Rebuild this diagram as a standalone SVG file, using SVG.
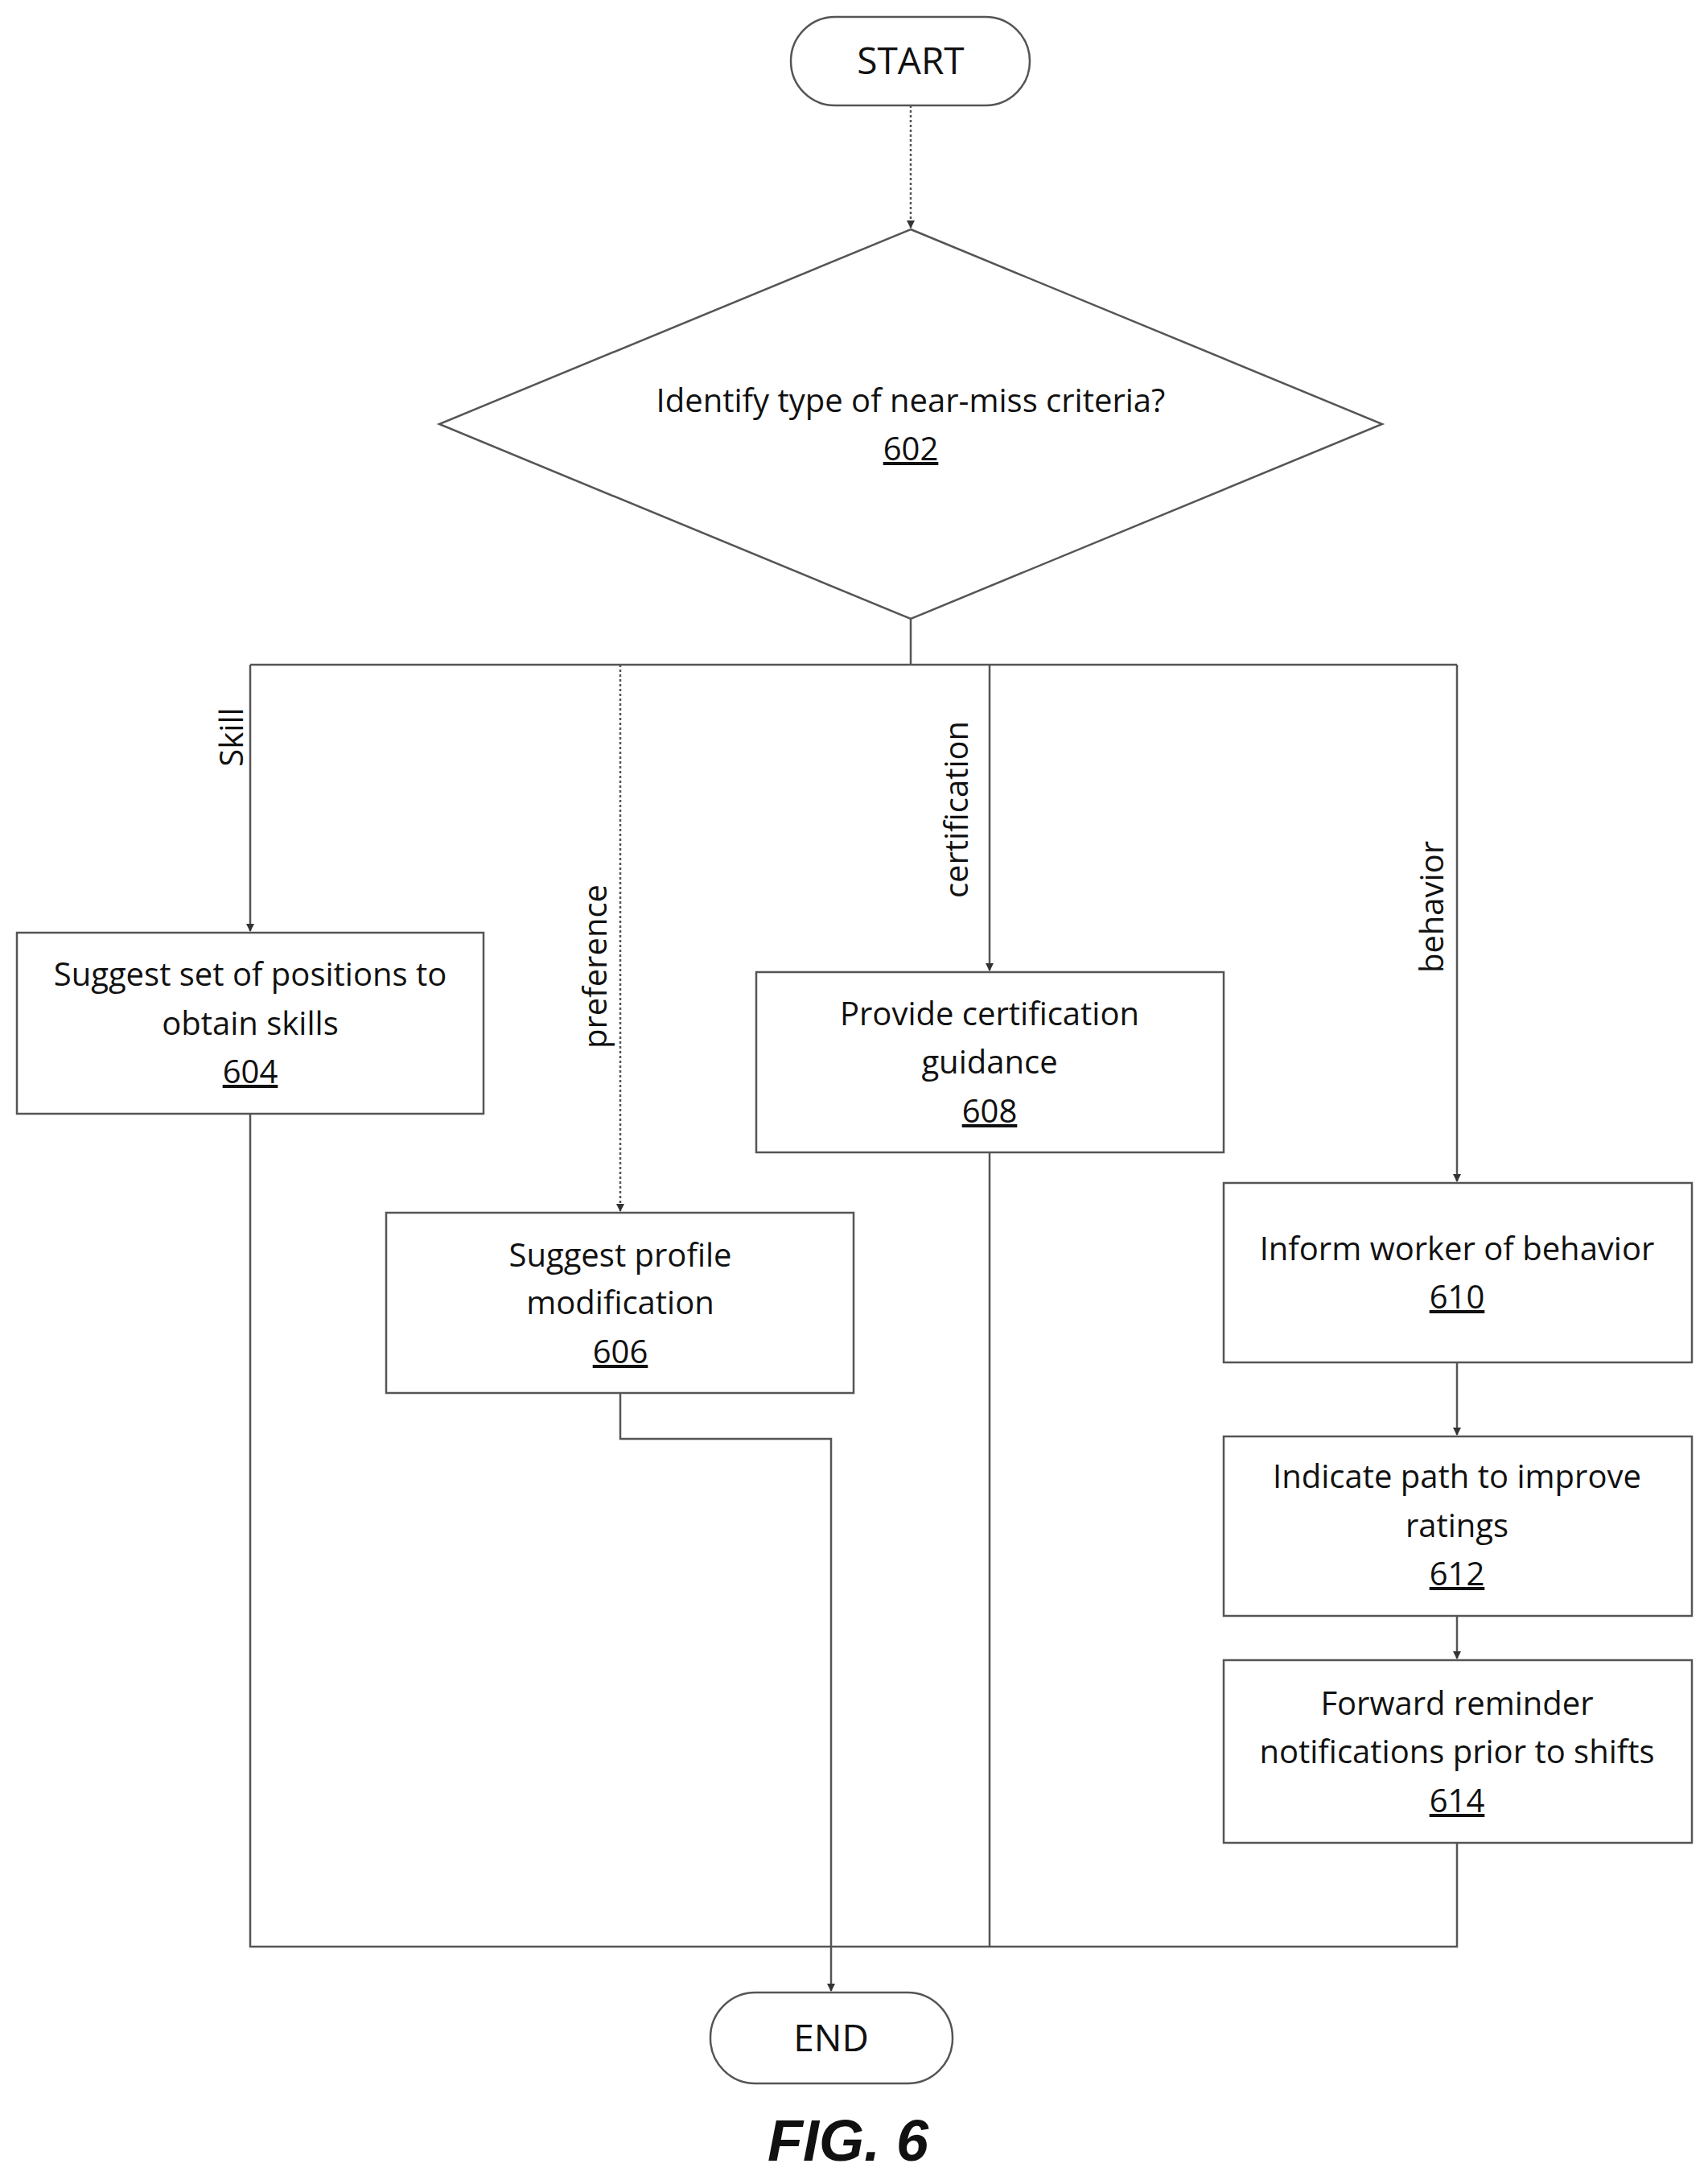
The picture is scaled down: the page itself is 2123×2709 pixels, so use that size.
<svg xmlns="http://www.w3.org/2000/svg" width="2123" height="2709" viewBox="0 0 2123 2709">
<style>
.b{fill:#fff;stroke:#555;stroke-width:2.5}
.l{fill:none;stroke:#555;stroke-width:2.5}
.d{fill:none;stroke:#555;stroke-width:2.5;stroke-dasharray:3 3}
text{font-family:"Open Sans","Liberation Sans",sans-serif;font-size:40px;fill:#111;text-anchor:middle}
.u{text-decoration:underline}
</style>
<defs><marker id="a" markerWidth="10" markerHeight="10" refX="9" refY="5" orient="auto" markerUnits="userSpaceOnUse" viewBox="0 0 10 10"><path d="M0,0 L10,5 L0,10 z" fill="#333"/></marker></defs>
<rect width="2123" height="2709" fill="#fff"/>
<g id="connectors">
<path class="d" d="M1132,131 V283" marker-end="url(#a)"/>
<path class="l" d="M1132,769 V826 M311,826 H1811"/>
<path class="l" d="M311,826 V1157" marker-end="url(#a)"/>
<path class="d" d="M771,826 V1505" marker-end="url(#a)"/>
<path class="l" d="M1230,826 V1206" marker-end="url(#a)"/>
<path class="l" d="M1811,826 V1468" marker-end="url(#a)"/>
<path class="l" d="M1811,1693 V1783" marker-end="url(#a)"/>
<path class="l" d="M1811,2008 V2061" marker-end="url(#a)"/>
<path class="l" d="M311,1384 V2419 H1811 V2290 M1230,1432 V2419"/>
<path class="l" d="M771,1731 V1788 H1033 V2474" marker-end="url(#a)"/>
<text transform="translate(302,916) rotate(-90)">Skill</text>
<text transform="translate(754,1201) rotate(-90)">preference</text>
<text transform="translate(1203,1006) rotate(-90)">certification</text>
<text transform="translate(1794,1127) rotate(-90)">behavior</text>
</g>
<g id="start"><rect class="b" x="983" y="21" width="297" height="110" rx="55"/><text x="1132" y="92" style="font-size:46px">START</text></g>
<g id="n602"><polygon class="b" points="1132,285 1718,527 1132,769 546,527"/><text x="1132" y="512">Identify type of near-miss criteria?</text><text class="u" x="1132" y="572">602</text></g>
<g id="n604"><rect class="b" x="21" y="1159" width="580" height="225"/><text x="311" y="1225">Suggest set of positions to</text><text x="311" y="1286">obtain skills</text><text class="u" x="311" y="1346">604</text></g>
<g id="n606"><rect class="b" x="480" y="1507" width="581" height="224"/><text x="771" y="1574">Suggest profile</text><text x="771" y="1633">modification</text><text class="u" x="771" y="1694">606</text></g>
<g id="n608"><rect class="b" x="940" y="1208" width="581" height="224"/><text x="1230" y="1274">Provide certification</text><text x="1230" y="1334">guidance</text><text class="u" x="1230" y="1395">608</text></g>
<g id="n610"><rect class="b" x="1521" y="1470" width="582" height="223"/><text x="1811" y="1566">Inform worker of behavior</text><text class="u" x="1811" y="1626">610</text></g>
<g id="n612"><rect class="b" x="1521" y="1785" width="582" height="223"/><text x="1811" y="1849">Indicate path to improve</text><text x="1811" y="1910">ratings</text><text class="u" x="1811" y="1970">612</text></g>
<g id="n614"><rect class="b" x="1521" y="2063" width="582" height="227"/><text x="1811" y="2131">Forward reminder</text><text x="1811" y="2191">notifications prior to shifts</text><text class="u" x="1811" y="2252">614</text></g>
<g id="end"><rect class="b" x="883" y="2476" width="301" height="113" rx="56"/><text x="1033" y="2549" style="font-size:46px">END</text></g>
<text x="1054" y="2685" style="font-family:'Liberation Sans',sans-serif;font-size:72px;font-weight:bold;font-style:italic">FIG. 6</text>
</svg>
